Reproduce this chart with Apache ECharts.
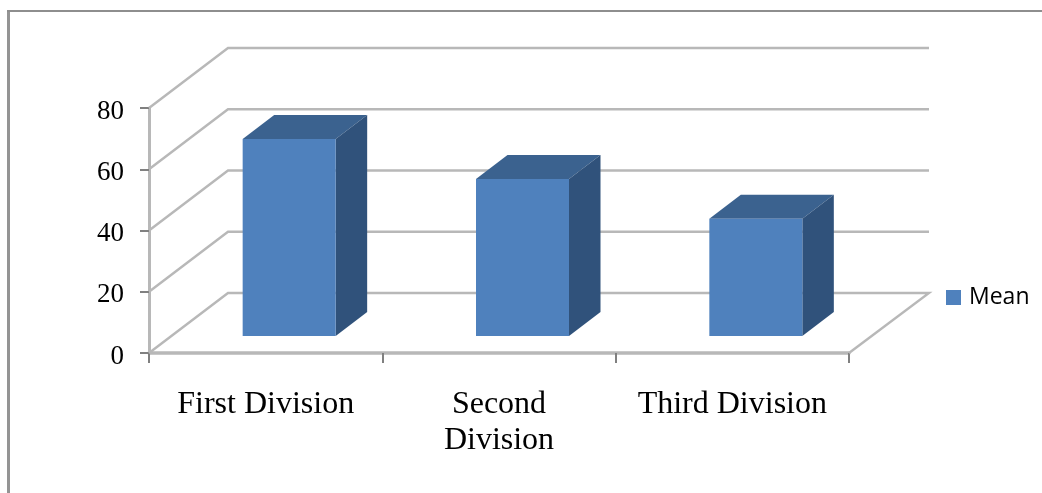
<!DOCTYPE html>
<html>
<head>
<meta charset="utf-8">
<style>html,body{margin:0;padding:0;background:#fff}#chart{width:1042px;height:493px}</style>
<script src="https://cdn.jsdelivr.net/npm/echarts@6/dist/echarts.min.js"></script>
</head>
<body>
<div id="chart"></div>
<script>
const categories = ['First Division', 'Second\nDivision', 'Third Division'];
const meanValues = [64.3, 51.3, 38.3];
const yTicks = [0, 20, 40, 60, 80];

// Oblique projection used for the pseudo-3D look
const WALL_DX = 79, WALL_DY = -60;     // front plane to back wall
const BAR_DX = 23.5, BAR_DY = -17;     // front plane to the bar's front face
const BAR_DEPTH_X = 31.5, BAR_DEPTH_Y = -24;
const BAR_WIDTH = 93;
const GRID_COLOR = '#b8b8b8';

function renderWall(params, api) {
  const cs = params.coordSys;
  const v = api.value(1);
  const p = api.coord([0, v]);
  const x0 = cs.x, y = p[1];
  const xEnd = cs.x + cs.width + WALL_DX + 1;
  const pts = [[x0, y], [x0 + WALL_DX, y + WALL_DY], [xEnd, y + WALL_DY]];
  if (v === 0) pts.push([cs.x + cs.width, y]);
  return {
    type: 'polyline',
    shape: { points: pts },
    style: { stroke: GRID_COLOR, lineWidth: 2.4, fill: 'none' },
    silent: true
  };
}

function renderBar(params, api) {
  const top = api.coord([api.value(0), api.value(1)]);
  const base = api.coord([api.value(0), 0]);
  const l = top[0] + BAR_DX - BAR_WIDTH / 2;
  const r = l + BAR_WIDTH;
  const t = top[1] + BAR_DY;
  const b = base[1] + BAR_DY;
  const dx = BAR_DEPTH_X, dy = BAR_DEPTH_Y;
  return {
    type: 'group',
    children: [
      { type: 'polygon', shape: { points: [[l, t], [l + dx, t + dy], [r + dx, t + dy], [r, t]] },
        style: { fill: '#3b628f' } },
      { type: 'polygon', shape: { points: [[r, t], [r + dx, t + dy], [r + dx, b + dy], [r, b]] },
        style: { fill: '#30527b' } },
      { type: 'rect', shape: { x: l, y: t, width: BAR_WIDTH, height: b - t },
        style: { fill: api.visual('color') } }
    ]
  };
}

const chart = echarts.init(document.getElementById('chart'), null, { renderer: 'canvas' });
chart.setOption({
  animation: false,
  backgroundColor: '#ffffff',
  grid: { left: 149, top: 108, width: 700, height: 245, containLabel: false },
  legend: {
    data: ['Mean'],
    left: 941,
    top: 281,
    icon: 'rect',
    itemWidth: 15,
    itemHeight: 15,
    itemGap: 0,
    textStyle: { fontFamily: 'Open Sans', fontSize: 23, color: '#000', padding: [0, 0, 0, 3] }
  },
  xAxis: {
    type: 'category',
    data: categories,
    axisLine: { lineStyle: { color: GRID_COLOR, width: 3.5 } },
    axisTick: { show: true, alignWithLabel: false, length: 10, lineStyle: { color: '#808080', width: 2 } },
    axisLabel: {
      interval: 0, margin: 34, color: '#000',
      fontFamily: 'Liberation Serif', fontSize: 32, lineHeight: 36
    },
    splitLine: { show: false }
  },
  yAxis: {
    type: 'value',
    min: 0,
    max: 80,
    interval: 20,
    axisLine: { show: true, lineStyle: { color: GRID_COLOR, width: 3 } },
    axisTick: { show: true, length: 9, lineStyle: { color: '#808080', width: 2 } },
    axisLabel: {
      margin: 25, verticalAlign: 'top', lineHeight: 7, color: '#000',
      fontFamily: 'Liberation Serif', fontSize: 27
    },
    splitLine: { show: false }
  },
  graphic: [
    { type: 'line', silent: true, shape: { x1: 8.5, y1: 10, x2: 8.5, y2: 493 },
      style: { stroke: '#949494', lineWidth: 3 } },
    { type: 'line', silent: true, shape: { x1: 7, y1: 11, x2: 1042, y2: 11 },
      style: { stroke: '#8e8e8e', lineWidth: 2 } }
  ],
  series: [
    {
      name: 'wall',
      type: 'custom',
      renderItem: renderWall,
      data: yTicks.map(v => [0, v]),
      clip: false,
      silent: true,
      z: 1
    },
    {
      name: 'Mean',
      type: 'custom',
      renderItem: renderBar,
      data: meanValues.map((v, i) => [i, v]),
      itemStyle: { color: '#4f81bd' },
      clip: false,
      z: 3
    }
  ]
});
</script>
</body>
</html>
